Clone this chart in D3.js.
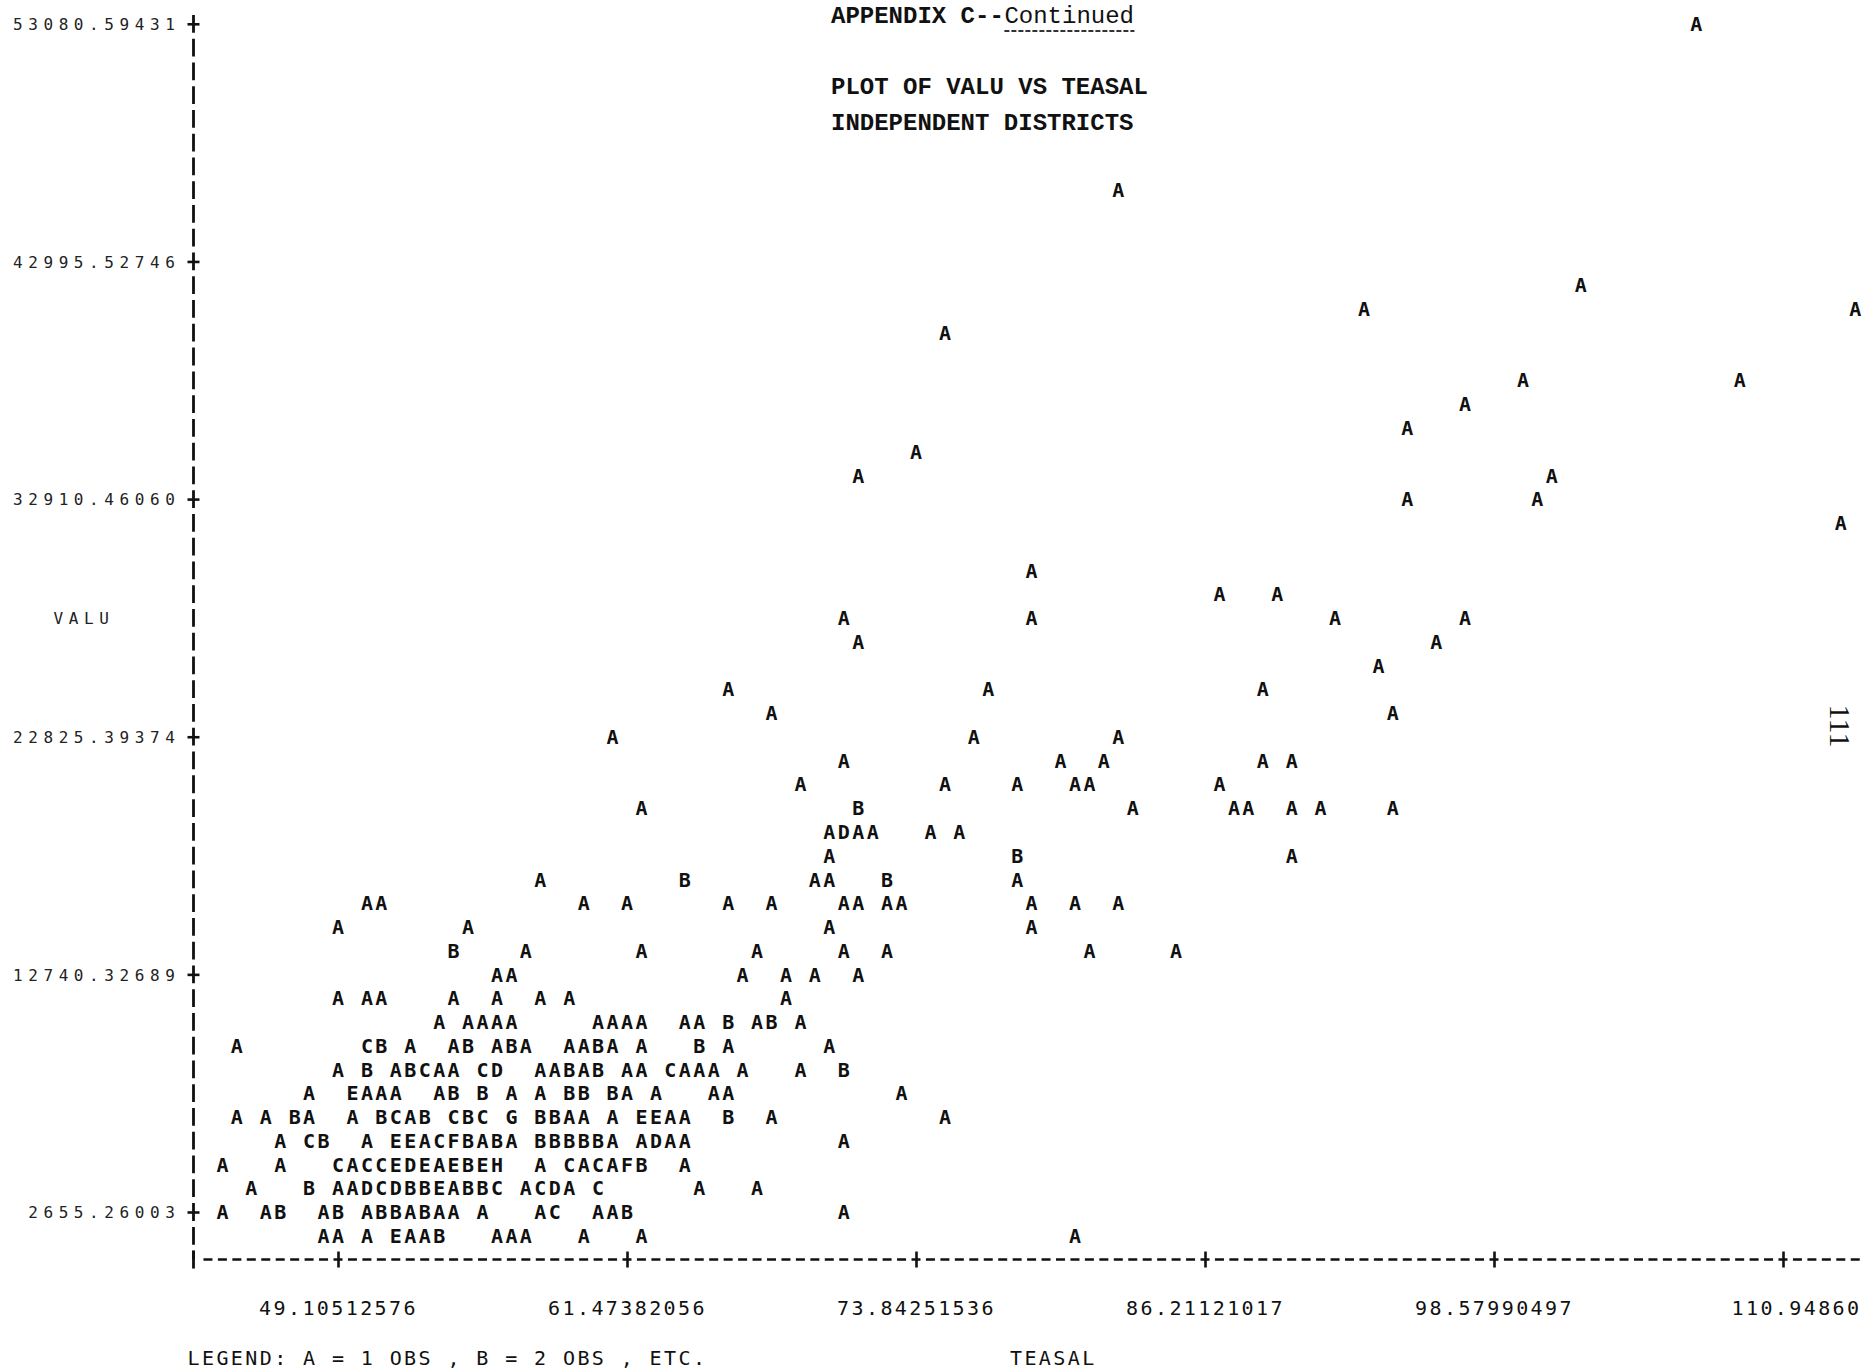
<!DOCTYPE html>
<html>
<head>
<meta charset="utf-8">
<script src="https://cdn.jsdelivr.net/npm/d3@7"></script>
<style>
  body { margin: 0; background: #fff; }
  svg { display: block; background: #fff; }
  .mark { font-family: 'DejaVu Sans Mono', monospace; font-weight: bold; font-size: 20px; fill: #111; }
  .ylab { font-family: 'DejaVu Sans Mono', monospace; font-size: 16px; letter-spacing: 5.6px; fill: #222; }
  .xlab { font-family: 'DejaVu Sans Mono', monospace; font-size: 20px; letter-spacing: 2.4px; fill: #111; }
  .title { font-family: 'Liberation Mono', monospace; font-weight: bold; font-size: 24px; fill: #111; }
</style>
</head>
<body>
<svg id="chart" width="1867" height="1371"></svg>
<script>
const valuTicks = [2655.26003, 12740.32689, 22825.39374, 32910.46060, 42995.52746, 53080.59431]
const teasalTicks = [49.10512576, 61.47382056, 73.84251536, 86.21121017, 98.57990497, 110.94860]
const teasalTickLabels = ['49.10512576', '61.47382056', '73.84251536', '86.21121017', '98.57990497', '110.94860']
const titleLines = ['PLOT OF VALU VS TEASAL', 'INDEPENDENT DISTRICTS']
const legendText = 'LEGEND: A = 1 OBS , B = 2 OBS , ETC.'

// printer plot, read line by line: [row, first column, characters]
// row 0 = top VALU tick, row 50 = bottom tick; column 10 = first TEASAL tick, 20 columns per tick
const plotRuns = [
  [0, 104, 'A'],
  [7, 64, 'A'],
  [11, 96, 'A'],
  [12, 81, 'A'], [12, 115, 'A'],
  [13, 52, 'A'],
  [15, 92, 'A'], [15, 107, 'A'],
  [16, 88, 'A'],
  [17, 84, 'A'],
  [18, 50, 'A'],
  [19, 46, 'A'], [19, 94, 'A'],
  [20, 84, 'A'], [20, 93, 'A'],
  [21, 114, 'A'],
  [23, 58, 'A'],
  [24, 71, 'A   A'],
  [25, 45, 'A'], [25, 58, 'A'], [25, 79, 'A'], [25, 88, 'A'],
  [26, 46, 'A'], [26, 86, 'A'],
  [27, 82, 'A'],
  [28, 37, 'A'], [28, 55, 'A'], [28, 74, 'A'],
  [29, 40, 'A'], [29, 83, 'A'],
  [30, 29, 'A'], [30, 54, 'A'], [30, 64, 'A'],
  [31, 45, 'A'], [31, 60, 'A  A'], [31, 74, 'A A'],
  [32, 42, 'A'], [32, 52, 'A'], [32, 57, 'A   AA'], [32, 71, 'A'],
  [33, 31, 'A'], [33, 46, 'B'], [33, 65, 'A'], [33, 72, 'AA'], [33, 76, 'A A'], [33, 83, 'A'],
  [34, 44, 'ADAA'], [34, 51, 'A A'],
  [35, 44, 'A'], [35, 57, 'B'], [35, 76, 'A'],
  [36, 24, 'A'], [36, 34, 'B'], [36, 43, 'AA'], [36, 48, 'B'], [36, 57, 'A'],
  [37, 12, 'AA'], [37, 27, 'A  A'], [37, 37, 'A  A'], [37, 45, 'AA AA'], [37, 58, 'A  A  A'],
  [38, 10, 'A'], [38, 19, 'A'], [38, 44, 'A'], [38, 58, 'A'],
  [39, 18, 'B'], [39, 23, 'A'], [39, 31, 'A'], [39, 39, 'A'], [39, 45, 'A  A'], [39, 62, 'A'], [39, 68, 'A'],
  [40, 21, 'AA'], [40, 38, 'A  A A  A'],
  [41, 10, 'A AA'], [41, 18, 'A  A  A A'], [41, 41, 'A'],
  [42, 17, 'A AAAA'], [42, 28, 'AAAA  AA B AB A'],
  [43, 3, 'A'], [43, 12, 'CB A  AB ABA  AABA A   B A'], [43, 44, 'A'],
  [44, 10, 'A B ABCAA CD  AABAB AA CAAA A   A  B'],
  [45, 8, 'A  EAAA  AB B A A BB BA A   AA'], [45, 49, 'A'],
  [46, 3, 'A A BA  A BCAB CBC G BBAA A EEAA  B  A'], [46, 52, 'A'],
  [47, 6, 'A CB  A EEACFBABA BBBBBA ADAA'], [47, 45, 'A'],
  [48, 2, 'A   A   CACCEDEAEBEH  A CACAFB  A'],
  [49, 4, 'A   B AADCDBBEABBC ACDA C'], [49, 35, 'A   A'],
  [50, 2, 'A  AB  AB ABBABAA A   AC  AAB'], [50, 45, 'A'],
  [51, 9, 'AA A EAAB   AAA   A   A'], [51, 61, 'A']
]

const valuPerRow = (valuTicks[5] - valuTicks[0]) / 50
const teasalPerCol = (teasalTicks[5] - teasalTicks[0]) / 100

const points = plotRuns.flatMap(([row, col, chars]) =>
  chars.split('').map((letter, i) => ({
    letter,
    obs: letter.charCodeAt(0) - 64,
    teasal: teasalTicks[0] + (col + i - 10) * teasalPerCol,
    valu: valuTicks[5] - row * valuPerRow
  })).filter(d => d.letter !== ' ')
)

const colW = 14.45
const rowH = 23.764
const x0 = 193.5
const yTop = 23.8
const axisY = yTop + 52 * rowH

const svg = d3.select('#chart')

const x = d3.scaleLinear()
  .domain([teasalTicks[0], teasalTicks[5]])
  .range([x0 + 10 * colW, x0 + 110 * colW])

const y = d3.scaleLinear()
  .domain([valuTicks[0], valuTicks[5]])
  .range([yTop + 50 * rowH, yTop])

// titles
const title = svg.append('g').attr('class', 'title')
title.append('text').attr('x', 831).attr('y', 23).text('APPENDIX C--')
title.append('text').attr('x', 831 + 12 * colW).attr('y', 23).style('font-weight', 'normal').text('Continued')
title.append('line')
  .attr('x1', 831 + 12 * colW).attr('x2', 831 + 21 * colW)
  .attr('y1', 31).attr('y2', 31)
  .attr('stroke', '#333').attr('stroke-width', 2).attr('stroke-dasharray', '5 2')
title.selectAll('text.sub')
  .data(titleLines)
  .join('text')
  .attr('class', 'sub')
  .attr('x', 831)
  .attr('y', (d, i) => 94 + i * 36)
  .text(d => d)

// y axis
const gy = svg.append('g')
  .attr('transform', `translate(${x0},0)`)
  .call(d3.axisLeft(y)
    .tickValues(valuTicks)
    .tickFormat(d3.format('.5f'))
    .tickSize(0)
    .tickPadding(13))
gy.select('.domain').remove()
gy.append('line')
  .attr('y1', yTop - rowH / 2 + 3).attr('y2', axisY)
  .attr('stroke', '#111').attr('stroke-width', 2.8)
  .attr('stroke-dasharray', `${rowH - 6} 6`)
gy.selectAll('.tick').append('line')
  .attr('x1', -6).attr('x2', 6)
  .attr('stroke', '#111').attr('stroke-width', 2.6)
gy.selectAll('.tick text')
  .attr('class', 'ylab')
  .attr('font-family', null).attr('font-size', null)
  .attr('dy', '0.36em')

svg.append('text')
  .attr('class', 'ylab')
  .attr('x', 84).attr('y', y(d3.mean([valuTicks[0], valuTicks[5]])))
  .attr('dy', '0.36em')
  .attr('text-anchor', 'middle')
  .text('VALU')

// x axis
const gx = svg.append('g')
  .attr('transform', `translate(0,${axisY})`)
  .call(d3.axisBottom(x)
    .tickValues(teasalTicks)
    .tickFormat((d, i) => teasalTickLabels[i])
    .tickSize(0)
    .tickPadding(41))
gx.select('.domain').remove()
gx.append('line')
  .attr('x1', x0 + colW - 4.5).attr('x2', x0 + 115.5 * colW)
  .attr('stroke', '#111').attr('stroke-width', 2.6)
  .attr('stroke-dasharray', `9 ${colW - 9}`)
gx.append('line')
  .attr('x1', x0).attr('x2', x0)
  .attr('y1', -9).attr('y2', 9)
  .attr('stroke', '#111').attr('stroke-width', 2.8)
gx.selectAll('.tick').append('line')
  .attr('y1', -8).attr('y2', 8)
  .attr('stroke', '#111').attr('stroke-width', 2.6)
gx.selectAll('.tick text')
  .attr('class', 'xlab')
  .attr('font-family', null).attr('font-size', null)
  .attr('dx', (d, i) => i === teasalTicks.length - 1 ? 13 : 0)

// plotted letters
svg.append('g')
  .selectAll('text')
  .data(points)
  .join('text')
  .attr('class', 'mark')
  .attr('x', d => x(d.teasal))
  .attr('y', d => y(d.valu))
  .attr('dy', '0.36em')
  .attr('text-anchor', 'middle')
  .text(d => d.letter)

// legend and axis name
svg.append('text')
  .attr('class', 'xlab')
  .attr('x', x0 - 6).attr('y', 1365)
  .text(legendText)
svg.append('text')
  .attr('class', 'xlab')
  .attr('x', x0 + 59.5 * colW).attr('y', 1365)
  .attr('text-anchor', 'middle')
  .text('TEASAL')

// page number
svg.append('text')
  .attr('transform', 'translate(1830,726) rotate(90)')
  .attr('text-anchor', 'middle')
  .style('font-family', "'Liberation Serif', serif")
  .style('font-size', '30px')
  .style('fill', '#111')
  .text('111')
</script>
</body>
</html>
